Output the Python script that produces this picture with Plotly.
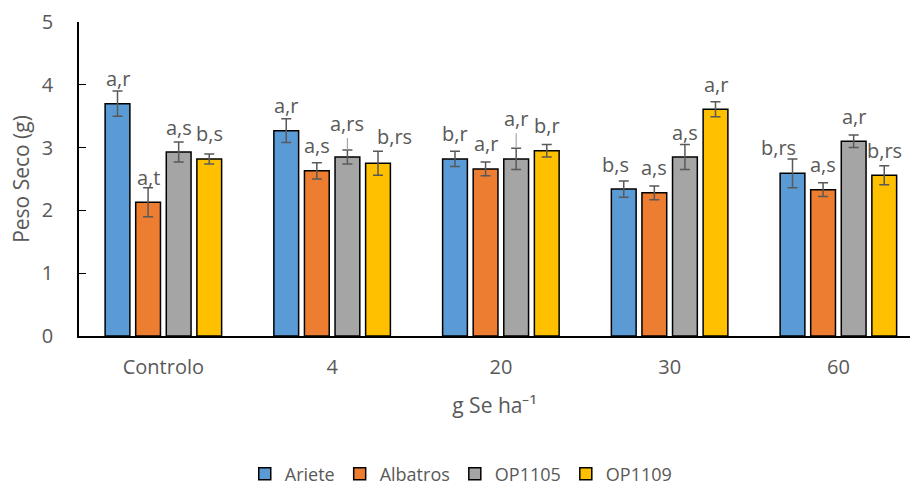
import plotly.graph_objects as go

# Dry weight per selenium dose and cultivar
doses = ["Controlo", "4", "20", "30", "60"]
cultivars = ["Ariete", "Albatros", "OP1105", "OP1109"]

ariete = [3.70, 3.27, 2.82, 2.34, 2.59]
albatros = [2.13, 2.63, 2.66, 2.28, 2.33]
op1105 = [2.93, 2.85, 2.82, 2.85, 3.10]
op1109 = [2.82, 2.75, 2.95, 3.61, 2.56]

ariete_err = [0.20, 0.19, 0.12, 0.13, 0.23]
albatros_err = [0.23, 0.13, 0.11, 0.11, 0.11]
op1105_err = [0.16, 0.11, 0.17, 0.20, 0.10]
op1109_err = [0.08, 0.19, 0.10, 0.12, 0.15]

ariete_lbl = ["a,r", "a,r", "b,r", "b,s", "b,rs"]
albatros_lbl = ["a,t", "a,s", "a,r", "a,s", "a,s"]
op1105_lbl = ["a,s", "a,rs", "a,r", "a,s", "a,r"]
op1109_lbl = ["b,s", "b,rs", "b,r", "a,r", "b,rs"]

values = [ariete, albatros, op1105, op1109]
errors = [ariete_err, albatros_err, op1105_err, op1109_err]
labels = [ariete_lbl, albatros_lbl, op1105_lbl, op1109_lbl]
colors = ["#5B9BD5", "#ED7D31", "#A5A5A5", "#FFC000"]

TEXT = "#595959"
FONT = "Open Sans"
BARGAP = 0.275
BARGROUPGAP = 0.19
LABEL_SIZE = 20

# label nudges (series index, dose index) -> (dx px, extra dy px, leader line)
nudges = {
    (2, 1): (0, 12, True),
    (3, 1): (16, 2, False),
    (2, 2): (0, 15, True),
    (0, 3): (-8, 0, False),
    (0, 4): (-14, 1, False),
}

fig = go.Figure()
for name, vals, errs, col in zip(cultivars, values, errors, colors):
    fig.add_trace(go.Bar(
        name=name, x=doses, y=vals,
        marker=dict(color=col, line=dict(color="black", width=1.5)),
        error_y=dict(type="data", array=errs, visible=True,
                     color=TEXT, thickness=1.5, width=5),
    ))

slot = (1 - BARGAP) / len(cultivars)
for s, (vals, errs, lbls) in enumerate(zip(values, errors, labels)):
    off = (s - (len(cultivars) - 1) / 2) * slot
    for i, (v, e, t) in enumerate(zip(vals, errs, lbls)):
        dx, dy, leader = nudges.get((s, i), (0, 0, False))
        if leader:
            # moved label joined to its bar by a thin leader line
            fig.add_annotation(
                x=i + off, y=v + e, xref="x", yref="y", text=t,
                showarrow=True, arrowhead=0, arrowwidth=1.2,
                arrowcolor="#A6A6A6", ax=dx, ay=-(25 + dy) + 10,
                standoff=0, font=dict(family=FONT, size=LABEL_SIZE, color=TEXT),
            )
        else:
            fig.add_annotation(
                x=i + off, y=v, xref="x", yref="y", text=t,
                showarrow=False, xshift=dx, yshift=25 + dy,
                yanchor="middle",
                font=dict(family=FONT, size=LABEL_SIZE, color=TEXT),
            )

fig.update_layout(
    width=910, height=486,
    margin=dict(l=79, r=0, t=22, b=150, autoexpand=False),
    paper_bgcolor="white", plot_bgcolor="white",
    barmode="group", bargap=BARGAP, bargroupgap=BARGROUPGAP,
    font=dict(family=FONT, size=18, color=TEXT),
    showlegend=True,
    legend=dict(orientation="h", x=0.46, xanchor="center",
                y=(486 - 474) / 486, yref="container", yanchor="middle",
                font=dict(family=FONT, size=18, color=TEXT),
                itemwidth=30),
    xaxis=dict(
        range=[-0.5, -0.5 + 831 / 168.75],
        automargin=False,
        showline=True, linecolor="black", linewidth=1.5,
        ticks="", showgrid=False, zeroline=False,
        tickfont=dict(family=FONT, size=20, color=TEXT),
        ticklabelstandoff=12,
        title=dict(text="g Se ha⁻¹", standoff=20,
                   font=dict(family=FONT, size=21, color=TEXT)),
    ),
    yaxis=dict(
        range=[0, 5], dtick=1,
        automargin=False,
        showline=True, linecolor="black", linewidth=1.5,
        ticks="inside", ticklen=7, tickcolor="black", tickwidth=1,
        showgrid=False, zeroline=False,
        tickfont=dict(family=FONT, size=20, color=TEXT),
        ticklabelstandoff=20,
        title=dict(text="Peso Seco (g)", standoff=6,
                   font=dict(family=FONT, size=21, color=TEXT)),
    ),
)

fig.write_html("out.html")
